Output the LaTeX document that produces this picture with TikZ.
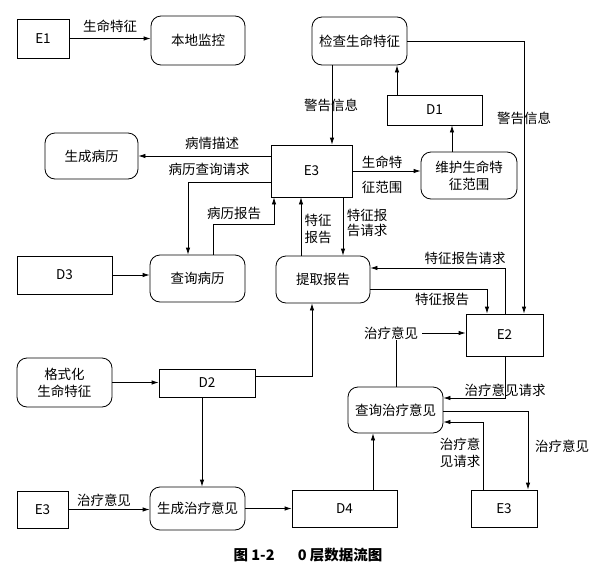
\documentclass[tikz,border=0pt]{standalone}
\usepackage{fontspec}
\setmainfont{Noto Sans CJK SC}
\usetikzlibrary{arrows.meta}

\begin{document}
\begin{tikzpicture}[
  x=1pt, y=-1pt,
  font=\fontsize{13.5}{17}\selectfont,
  term/.style={draw, line width=0.8pt, inner sep=0pt, align=center},
  store/.style={draw, line width=0.8pt, inner sep=0pt, align=center},
  proc/.style={draw, line width=0.8pt, rounded corners=10pt, inner sep=0pt, align=center},
  lbl/.style={inner sep=1pt, align=center},
  arr/.style={-{Latex[length=7pt,width=4.5pt]}, line width=0.8pt},
  ln/.style={line width=0.8pt}
]
  \useasboundingbox (0,0) rectangle (598,576);

  % terminators, processes, stores
  \node[term, minimum width=52pt, minimum height=39pt] (e1) at (43,38.5) {E1};
  \node[proc, minimum width=94pt, minimum height=49pt] (bdjk) at (198,40.5) {本地监控};
  \node[proc, minimum width=95pt, minimum height=48pt] (jcsm) at (359.5,41) {检查生命特征};
  \node[store, minimum width=95pt, minimum height=30pt] (d1) at (434.5,110) {D1};
  \node[term, minimum width=81pt, minimum height=52pt] (e3) at (311.5,171) {E3};
  \node[proc, minimum width=96pt, minimum height=47pt] (whsm) at (469,175.5) {维护生命特\\征范围};
  \node[proc, minimum width=93pt, minimum height=46pt] (scbl) at (91.5,156) {生成病历};
  \node[proc, minimum width=95pt, minimum height=47pt] (cxbl) at (197.5,278.5) {查询病历};
  \node[store, minimum width=95pt, minimum height=38pt] (d3) at (64.5,275) {D3};
  \node[proc, minimum width=94pt, minimum height=47pt] (tqbg) at (323,279.5) {提取报告};
  \node[term, minimum width=77pt, minimum height=42pt] (e2) at (504.5,335) {E2};
  \node[proc, minimum width=95pt, minimum height=49pt] (gss) at (64.5,382.5) {格式化\\生命特征};
  \node[store, minimum width=96pt, minimum height=28pt] (d2) at (207,383) {D2};
  \node[proc, minimum width=95pt, minimum height=46pt] (cxzl) at (395.5,410) {查询治疗意见};
  \node[term, minimum width=51pt, minimum height=37pt] (e3a) at (42.5,509.5) {E3};
  \node[proc, minimum width=95pt, minimum height=43pt] (sczl) at (197.5,508.5) {生成治疗意见};
  \node[store, minimum width=105pt, minimum height=37pt] (d4) at (344.5,508.5) {D4};
  \node[term, minimum width=66pt, minimum height=37pt] (e3b) at (504,508.5) {E3};

  % flow labels
  \node[lbl] (l1) at (110,26) {生命特征};
  \node[lbl] (l2) at (331,105) {警告信息};
  \node[lbl] (l3) at (524,118) {警告信息};
  \node[lbl] (l4) at (212,143) {病情描述};
  \node[lbl] (l5) at (209,169) {病历查询请求};
  \node[lbl] (l6) at (234,213) {病历报告};
  \node[lbl] (l7a) at (382,162) {生命特};
  \node[lbl] (l7b) at (382,187) {征范围};
  \node[lbl] (l8) at (318,229) {特征\\报告};
  \node[lbl, font=\fontsize{13.5}{15}\selectfont] (l9) at (367,223) {特征报\\告请求};
  \node[lbl] (l10) at (465,258) {特征报告请求};
  \node[lbl] (l11) at (442,299) {特征报告};
  \node[lbl] (l12) at (391,333) {治疗意见};
  \node[lbl] (l13) at (505,390) {治疗意见请求};
  \node[lbl] (l14) at (460,453) {治疗意\\见请求};
  \node[lbl] (l15) at (562,446) {治疗意见};
  \node[lbl] (l16) at (104,500) {治疗意见};

  % flows
  \draw[arr] (e1.east) -- (e1.east -| bdjk.west);
  \draw[arr] (jcsm.south -| 332,0) -- (e3.north -| 332,0);
  \draw[arr] (jcsm.east) -- (jcsm.east -| 524,0) -- (e2.north -| 524,0);
  \draw[arr] (d1.north -| 397,0) -- (jcsm.south -| 397,0);
  \draw[arr] (whsm.north -| 452,0) -- (d1.south -| 452,0);
  \draw[arr] (e3.east) -- (e3.east -| whsm.west);
  \draw[arr] (e3.west |- scbl.east) -- (scbl.east);
  \draw[arr] ([yshift=-11pt]e3.west) -| (cxbl.north -| 188,0);
  \draw[arr] (cxbl.north -| 213,0) -- (213,224) -| (e3.south -| 274,0);
  \draw[arr] (d3.east) -- (d3.east -| cxbl.west);
  \draw[arr] (tqbg.north -| 301,0) -- (e3.south -| 301,0);
  \draw[arr] (e3.south -| 343,0) -- (tqbg.north -| 343,0);
  \draw[arr] (e2.north -| 505,0) |- (tqbg.east |- 0,268);
  \draw[arr] (tqbg.east |- 0,289) -| (e2.north -| 487,0);
  \draw[ln] (cxzl.north -| 396,0) -- (l12.south -| 396,0);
  \draw[arr] ([xshift=3pt]l12.east) -- (l12.east -| e2.west);
  \draw[arr] (e2.south -| 505,0) |- (cxzl.east |- 0,398);
  \draw[arr] (cxzl.east |- 0,411) -| (e3b.north -| 528,0);
  \draw[arr] (e3b.north -| 483,0) |- (cxzl.east |- 0,422);
  \draw[arr] (d4.north -| 373,0) -- (cxzl.south -| 373,0);
  \draw[arr] (sczl.east) -- (sczl.east -| d4.west);
  \draw[arr] (e3a.east) -- (e3a.east -| sczl.west);
  \draw[arr] (d2.south -| 202,0) -- (sczl.north -| 202,0);
  \draw[arr] ([yshift=7pt]d2.east) -| (tqbg.south -| 312,0);
  \draw[arr] (gss.east) -- (gss.east -| d2.west);

  \node[font=\fontsize{14.5}{17}\selectfont\bfseries] (cap) at (308,555) {图 1-2\hspace{1.6em}0 层数据流图};
\end{tikzpicture}
\end{document}
